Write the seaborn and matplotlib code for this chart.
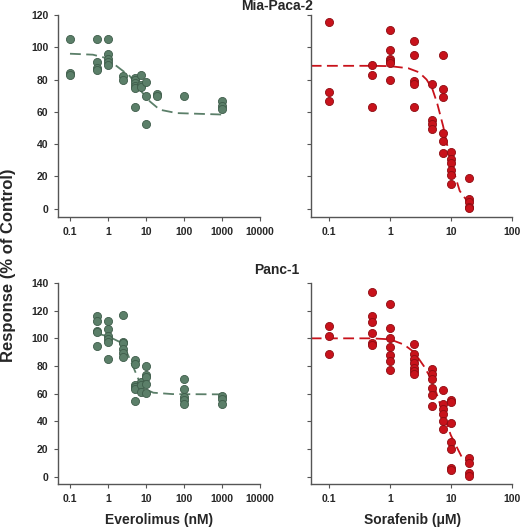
import matplotlib
matplotlib.use('Agg')
import matplotlib.pyplot as plt
import seaborn as sns
import pandas as pd

# Mia-Paca-2, everolimus (nM)
mp_evero_x = [0.1] * 3 + [0.5] * 4 + [1] * 5 + [2.5] * 2 + [5] * 6 + [7.5] * 3 + [10] * 3 + [20] * 2 + [100] + [1000] * 3
mp_evero_y = [105, 84, 82.5,
              105, 91, 87, 86,
              105, 96, 93, 91, 89,
              82, 80,
              81, 80, 78, 76, 75, 63,
              82.5, 76.5, 75.5,
              78.5, 70, 52.5,
              71, 69.5,
              70,
              67, 63.3, 61.7]
mp_evero_fit_x = [0.1, 0.4, 0.9, 2, 3.8, 7, 12.7, 23, 64, 1000]
mp_evero_fit_y = [96, 95.4, 93.3, 87, 82, 73.5, 66.4, 61.3, 59.2, 58.3]

# Mia-Paca-2, sorafenib (uM)
mp_sora_x = [0.1] * 3 + [0.5] * 3 + [1] * 6 + [2.5] * 5 + [5] * 4 + [7.5] * 6 + [10] * 6 + [20] * 5
mp_sora_y = [115.5, 72.5, 66.5,
             89, 82.6, 63,
             110.8, 98.5, 93, 91.5, 90, 80,
             104, 95, 79, 77.5, 63,
             77, 54.7, 52.4, 49.5,
             95, 74, 69, 46.6, 42, 34.5,
             35.3, 31, 28.3, 24, 20.8, 15.2,
             19, 6.2, 4.3, 1.2, 0.4]
mp_sora_fit_x = [0.05, 0.5, 1, 2, 3, 4, 5, 6, 7.5, 10, 14, 20]
mp_sora_fit_y = [88.5, 88.5, 88.3, 87, 84.5, 80, 74, 65, 51, 29, 11, 3]

# Panc-1, everolimus (nM)
pc_evero_x = [0.5] * 5 + [1] * 6 + [2.5] * 6 + [5] * 6 + [7.5] * 3 + [10] * 5 + [100] * 5 + [1000] * 3
pc_evero_y = [116.4, 112.8, 105.5, 104.6, 94.2,
              112.3, 106.7, 101.4, 99.3, 97.6, 84.8,
              117.1, 97.6, 96.9, 92, 89.2, 86.7,
              84.6, 81.4, 66.3, 65, 63.1, 54.5,
              68.2, 66.3, 61.2,
              79.8, 73.3, 71.8, 67, 60.2,
              70.4, 63.4, 57.8, 55.4, 52.5,
              58.3, 55.9, 52.5]
pc_evero_fit_x = [0.5, 1, 2, 3, 4.6, 7, 10, 15.6, 50, 1000]
pc_evero_fit_y = [103.5, 101.5, 97.5, 91, 79.5, 67.5, 63, 60.7, 59.7, 59.5]

# Panc-1, sorafenib (uM)
pc_sora_x = [0.1] * 3 + [0.5] * 6 + [1] * 7 + [2.5] * 7 + [5] * 6 + [7.5] * 6 + [10] * 7 + [20] * 4
pc_sora_y = [109.1, 101.7, 89,
             133.6, 116.5, 111.5, 103.6, 96.9, 95.2,
             124.5, 107.7, 100, 94, 88, 83.7, 77,
             96.2, 88.5, 85.4, 82.5, 78.9, 76.5, 74.3,
             77.9, 74.3, 70.3, 64, 58.8, 50.8,
             62.4, 52.3, 48.7, 45.1, 40.5, 34.5,
             55.6, 53.7, 38.8, 24.9, 19.9, 6.5, 4.8,
             13.4, 10, 2.4, 0.5]
pc_sora_fit_x = [0.05, 0.5, 1, 1.7, 2.5, 3.6, 5, 7.2, 10, 15, 20]
pc_sora_fit_y = [100, 100, 99.3, 95.5, 90, 80, 69, 48, 30, 14.5, 9.5]

evero_ticks = [0.1, 1, 10, 100, 1000, 10000]
evero_ticklabels = ['0.1', '1', '10', '100', '1000', '10000']
sora_ticks = [0.1, 1, 10, 100]
sora_ticklabels = ['0.1', '1', '10', '100']

GREEN = '#5b7f69'
GREEN_EDGE = '#3e5c4a'
RED = '#c8121b'
RED_EDGE = '#8e0c12'

sns.set_theme(style='white')
plt.rcParams['font.family'] = ['Liberation Sans', 'DejaVu Sans']
plt.rcParams['font.weight'] = 'bold'


def draw_panel(ax, x, y, fx, fy, color, edge, xlim, ylim, yticks, xticks, xticklabels, show_ylabels):
    pts = pd.DataFrame({'conc': x, 'resp': y})
    fit = pd.DataFrame({'conc': fx, 'resp': fy})
    sns.lineplot(data=fit, x='conc', y='resp', ax=ax, color=color, lw=1.3,
                 linestyle=(0, (6, 3)), zorder=2)
    sns.scatterplot(data=pts, x='conc', y='resp', ax=ax, color=color, edgecolor=edge,
                    linewidth=0.6, s=34, zorder=3)
    ax.set_xscale('log')
    ax.set_xlim(*xlim)
    ax.set_ylim(*ylim)
    ax.set_xticks(xticks)
    ax.set_xticklabels(xticklabels)
    ax.minorticks_off()
    ax.set_yticks(yticks)
    if not show_ylabels:
        ax.set_yticklabels([])
    ax.set_xlabel('')
    ax.set_ylabel('')
    for side in ['top', 'right']:
        ax.spines[side].set_visible(False)
    for side in ['left', 'bottom']:
        ax.spines[side].set_color('#555555')
        ax.spines[side].set_linewidth(1.0)
    ax.spines['left'].set_bounds(ylim[0], yticks[-1])
    ax.tick_params(direction='out', length=3, width=0.8, color='#555555',
                   labelsize=7.5, pad=4, bottom=True, left=True)
    for lab in ax.get_xticklabels() + ax.get_yticklabels():
        lab.set_fontweight('bold')


fig = plt.figure(figsize=(5.2, 5.3), dpi=100)
ax_tl = fig.add_axes([0.1115, 0.5906, 0.3885, 0.3811])
ax_tr = fig.add_axes([0.5975, 0.5906, 0.3865, 0.3811])
ax_bl = fig.add_axes([0.1115, 0.0868, 0.3885, 0.3792])
ax_br = fig.add_axes([0.5975, 0.0868, 0.3865, 0.3792])

top_yticks = [0, 20, 40, 60, 80, 100, 120]
bot_yticks = [0, 20, 40, 60, 80, 100, 120, 140]

draw_panel(ax_tl, mp_evero_x, mp_evero_y, mp_evero_fit_x, mp_evero_fit_y, GREEN, GREEN_EDGE,
           (0.0483, 10000), (-5.2, 120), top_yticks, evero_ticks, evero_ticklabels, True)
draw_panel(ax_tr, mp_sora_x, mp_sora_y, mp_sora_fit_x, mp_sora_fit_y, RED, RED_EDGE,
           (0.05, 100), (-5.2, 120), top_yticks, sora_ticks, sora_ticklabels, False)
draw_panel(ax_bl, pc_evero_x, pc_evero_y, pc_evero_fit_x, pc_evero_fit_y, GREEN, GREEN_EDGE,
           (0.0483, 10000), (-5.3, 140), bot_yticks, evero_ticks, evero_ticklabels, True)
draw_panel(ax_br, pc_sora_x, pc_sora_y, pc_sora_fit_x, pc_sora_fit_y, RED, RED_EDGE,
           (0.05, 100), (-5.3, 140), bot_yticks, sora_ticks, sora_ticklabels, False)

fig.text(0.533, 0.989, 'Mia-Paca-2', ha='center', va='center', fontsize=10, fontweight='bold')
fig.text(0.533, 0.4906, 'Panc-1', ha='center', va='center', fontsize=10, fontweight='bold')
fig.text(0.306, 0.019, 'Everolimus (nM)', ha='center', va='center', fontsize=10, fontweight='bold')
fig.text(0.794, 0.019, 'Sorafenib (\u03bcM)', ha='center', va='center', fontsize=10, fontweight='bold')
fig.text(0.017, 0.5, 'Response (% of Control)', ha='center', va='center', rotation=90,
         fontsize=12, fontweight='bold')

fig.savefig('out.png', dpi=100, facecolor='white')
